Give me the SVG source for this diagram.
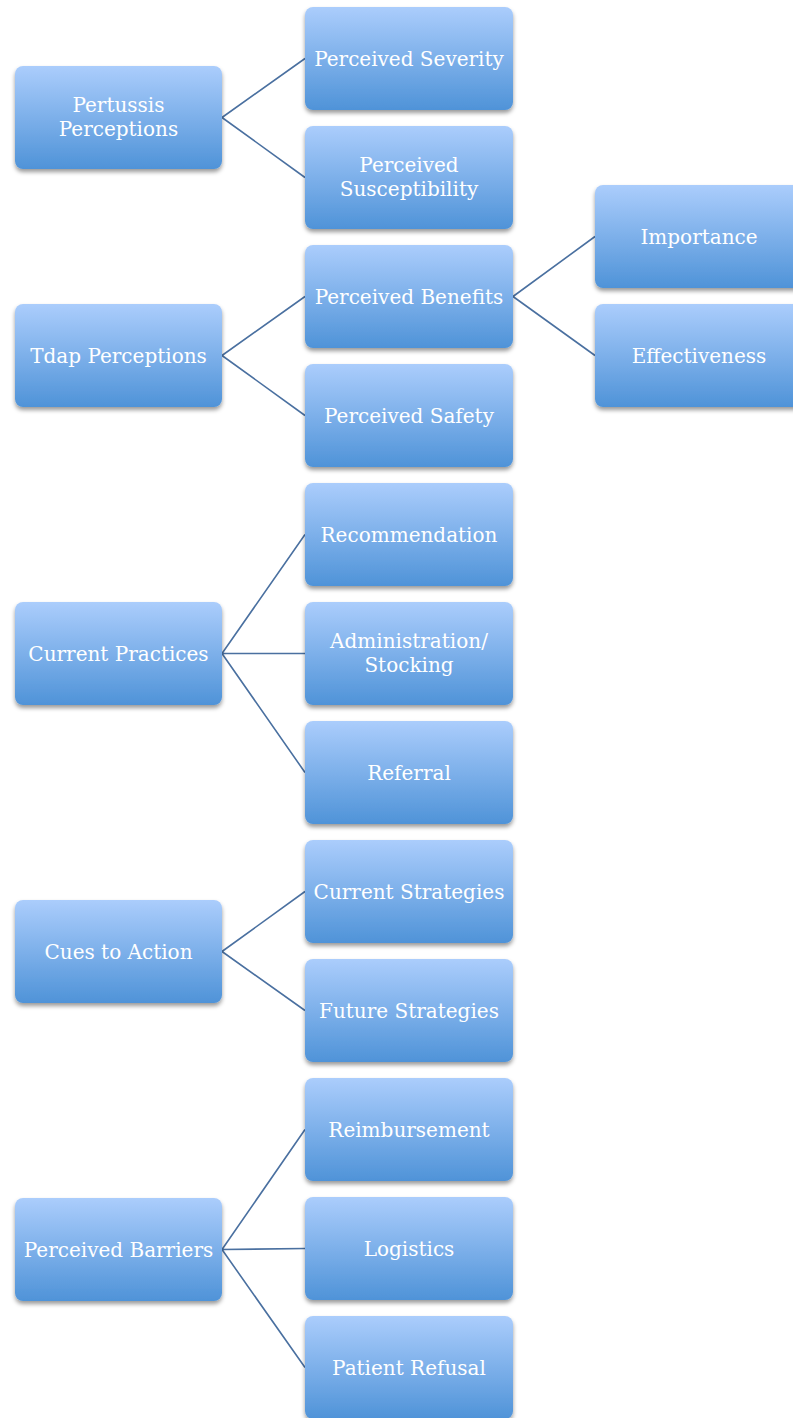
<svg xmlns="http://www.w3.org/2000/svg" width="793" height="1418" viewBox="0 0 793 1418">
<style>
.box{fill:url(#g);filter:url(#sh)}
.t{font-family:"DejaVu Serif","Liberation Serif",serif;font-size:20px;fill:#ffffff;text-anchor:middle}
.c{stroke:#4a70a0;stroke-width:1.6;fill:none}
</style>
<defs>
<linearGradient id="g" x1="0" y1="0" x2="0" y2="1">
<stop offset="0" stop-color="#abcdfc"/>
<stop offset="1" stop-color="#4f93d8"/>
</linearGradient>
<filter id="sh" x="-10%" y="-10%" width="120%" height="130%">
<feDropShadow dx="0" dy="3" stdDeviation="2.2" flood-color="#000" flood-opacity="0.4"/>
</filter>
</defs>
<rect width="793" height="1418" fill="#fff"/>
<g id="connectors">
<path class="c" d="M222,117.5 L305,58.5 M222,117.5 L305,177.5"/>
<path class="c" d="M222,355.5 L305,296.5 M222,355.5 L305,415.5"/>
<path class="c" d="M513,296.5 L595,236.5 M513,296.5 L595,355.5"/>
<path class="c" d="M222,653.5 L305,534.5 M222,653.5 L305,653.5 M222,653.5 L305,772.5"/>
<path class="c" d="M222,951.5 L305,891.5 M222,951.5 L305,1010.5"/>
<path class="c" d="M222,1249.5 L305,1129.5 M222,1249.5 L305,1248.5 M222,1249.5 L305,1367.5"/>
</g>
<g id="n-pertussis"><rect class="box" x="15" y="66" width="207" height="103" rx="8"/><text class="t" x="118.5" y="112">Pertussis</text><text class="t" x="118.5" y="136">Perceptions</text></g>
<g id="n-severity"><rect class="box" x="305" y="7" width="208" height="103" rx="8"/><text class="t" x="409" y="66">Perceived Severity</text></g>
<g id="n-susceptibility"><rect class="box" x="305" y="126" width="208" height="103" rx="8"/><text class="t" x="409" y="172">Perceived</text><text class="t" x="409" y="196">Susceptibility</text></g>
<g id="n-tdap"><rect class="box" x="15" y="304" width="207" height="103" rx="8"/><text class="t" x="118.5" y="363">Tdap Perceptions</text></g>
<g id="n-benefits"><rect class="box" x="305" y="245" width="208" height="103" rx="8"/><text class="t" x="409" y="304">Perceived Benefits</text></g>
<g id="n-safety"><rect class="box" x="305" y="364" width="208" height="103" rx="8"/><text class="t" x="409" y="423">Perceived Safety</text></g>
<g id="n-importance"><rect class="box" x="595" y="185" width="208" height="103" rx="8"/><text class="t" x="699" y="244">Importance</text></g>
<g id="n-effectiveness"><rect class="box" x="595" y="304" width="208" height="103" rx="8"/><text class="t" x="699" y="363">Effectiveness</text></g>
<g id="n-current"><rect class="box" x="15" y="602" width="207" height="103" rx="8"/><text class="t" x="118.5" y="661">Current Practices</text></g>
<g id="n-recommendation"><rect class="box" x="305" y="483" width="208" height="103" rx="8"/><text class="t" x="409" y="542">Recommendation</text></g>
<g id="n-administration"><rect class="box" x="305" y="602" width="208" height="103" rx="8"/><text class="t" x="409" y="648">Administration/</text><text class="t" x="409" y="672">Stocking</text></g>
<g id="n-referral"><rect class="box" x="305" y="721" width="208" height="103" rx="8"/><text class="t" x="409" y="780">Referral</text></g>
<g id="n-cues"><rect class="box" x="15" y="900" width="207" height="103" rx="8"/><text class="t" x="118.5" y="959">Cues to Action</text></g>
<g id="n-curstrat"><rect class="box" x="305" y="840" width="208" height="103" rx="8"/><text class="t" x="409" y="899">Current Strategies</text></g>
<g id="n-futstrat"><rect class="box" x="305" y="959" width="208" height="103" rx="8"/><text class="t" x="409" y="1018">Future Strategies</text></g>
<g id="n-barriers"><rect class="box" x="15" y="1198" width="207" height="103" rx="8"/><text class="t" x="118.5" y="1257">Perceived Barriers</text></g>
<g id="n-reimbursement"><rect class="box" x="305" y="1078" width="208" height="103" rx="8"/><text class="t" x="409" y="1137">Reimbursement</text></g>
<g id="n-logistics"><rect class="box" x="305" y="1197" width="208" height="103" rx="8"/><text class="t" x="409" y="1256">Logistics</text></g>
<g id="n-refusal"><rect class="box" x="305" y="1316" width="208" height="103" rx="8"/><text class="t" x="409" y="1375">Patient Refusal</text></g>
</svg>
